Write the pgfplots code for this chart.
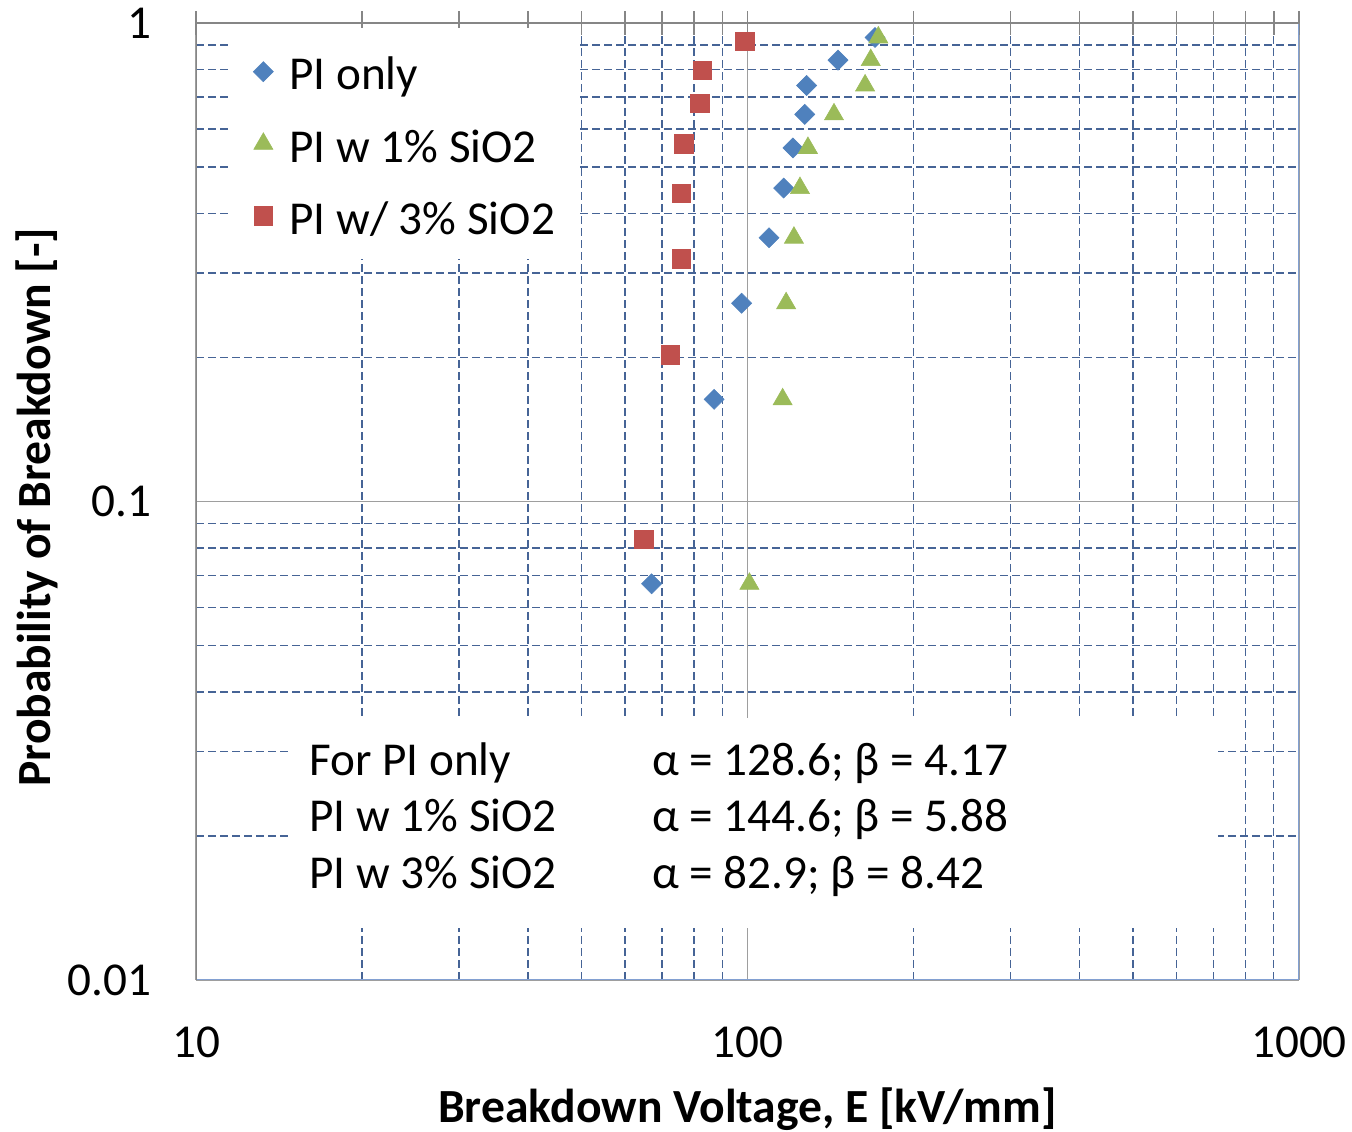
\documentclass[border=0pt]{standalone}
\usepackage{pgfplots}
\pgfplotsset{compat=1.18}
\usepackage{fontspec}
\setmainfont{Carlito}
\definecolor{pblue}{RGB}{79,129,189}
\definecolor{pgreen}{RGB}{155,187,89}
\definecolor{pred}{RGB}{192,80,77}
\definecolor{gridblue}{RGB}{70,100,150}
\definecolor{borderblue}{RGB}{130,160,210}
\definecolor{axgray}{RGB}{134,134,134}
\newcommand{\fs}{\fontsize{23.6}{28.3}\selectfont}
\begin{document}
\begin{tikzpicture}
\begin{axis}[
  xmode=log, ymode=log,
  scale only axis, width=551.5pt, height=478.5pt,
  xmin=10, xmax=1000, ymin=0.01, ymax=1,
  xtick={10,100,1000}, xticklabels={10,100,1000},
  ytick={0.01,0.1,1}, yticklabels={0.01,0.1,1},
  minor xtick={20,30,40,50,60,70,80,90,200,300,400,500,600,700,800,900},
  minor ytick={0.02,0.03,0.04,0.05,0.06,0.07,0.08,0.09,0.2,0.3,0.4,0.5,0.6,0.7,0.8,0.9},
  xtick pos=upper, xticklabel pos=lower,
  ytick pos=left,
  xtick align=center,
  major tick length=12pt, minor tick length=12pt,
  x tick style={axgray, line width=0.75pt},
  y tick style={draw=none},
  grid=both,
  major grid style={axgray!80, line width=0.75pt, solid},
  minor grid style={gridblue, line width=0.7pt, dash pattern=on 4pt off 2pt},
  axis line style={draw=none},
  tick label style={font=\fs},
  xticklabel style={yshift=-14pt},
  yticklabel style={xshift=-19pt},
  xlabel={Breakdown Voltage, E [kV/mm]},
  ylabel={Probability of Breakdown [-]},
  xlabel style={font=\bfseries\fontsize{23.8}{28.5}\selectfont, at={(axis description cs:0.5,-0.135)}, anchor=center},
  ylabel style={font=\bfseries\fontsize{23.8}{28.5}\selectfont, at={(axis description cs:-0.144,0.494)}, anchor=center},
  legend style={at={(rel axis cs:0.0326,0.9948)}, anchor=north west, draw=none, fill=white,
    font=\fs, row sep=10.75pt, inner xsep=10.5pt, inner ysep=9pt,
    /tikz/every odd column/.append style={column sep=6pt}},
  legend cell align=left,
  legend image code/.code={\draw[#1,mark repeat=2,mark phase=2] plot coordinates {(0pt,0pt)(6pt,0pt)(12pt,0pt)};},
]
\addplot[only marks, mark=square*, mark size=3.54pt, color=pblue, mark options={rotate=45, line width=0.3pt}]
  coordinates {(67.0,0.0673)(87.0,0.1635)(97.6,0.2596)(109.4,0.3558)(116.3,0.4519)(120.9,0.5481)(127.0,0.6442)(128.0,0.7404)(145.9,0.8365)(170.3,0.9327)};
\addlegendentry{\strut PI only}
\addplot[only marks, mark=triangle*, mark size=5.5pt, color=pgreen, mark options={line width=0.3pt}]
  coordinates {(100.8,0.0673)(115.8,0.1635)(117.5,0.2596)(121.4,0.3558)(124.5,0.4519)(128.7,0.5481)(143.5,0.6442)(163.4,0.7404)(167.3,0.8365)(172.7,0.9327)};
\addlegendentry{\strut PI w 1\% SiO2}
\addplot[only marks, mark=square*, mark size=4.6pt, color=pred, mark options={line width=0.3pt}]
  coordinates {(64.9,0.0833)(72.4,0.2024)(75.9,0.3214)(75.9,0.4405)(76.7,0.5595)(82.0,0.6786)(82.7,0.7976)(98.8,0.9167)};
\addlegendentry{\strut PI w/ 3\% SiO2}
\fill[white] (rel axis cs:0.0834,0.0543) rectangle (rel axis cs:0.9266,0.2738);
\node[anchor=base west, inner sep=0pt, font=\fs] at (rel axis cs:0.1024,0.2142) {For PI only};
\node[anchor=base west, inner sep=0pt, font=\fs] at (rel axis cs:0.1024,0.1547) {PI w 1\% SiO2};
\node[anchor=base west, inner sep=0pt, font=\fs] at (rel axis cs:0.1024,0.0951) {PI w 3\% SiO2};
\node[anchor=base west, inner sep=0pt, font=\fs] at (rel axis cs:0.4134,0.2142) {α = 128.6; β = 4.17};
\node[anchor=base west, inner sep=0pt, font=\fs] at (rel axis cs:0.4134,0.1547) {α = 144.6; β = 5.88};
\node[anchor=base west, inner sep=0pt, font=\fs] at (rel axis cs:0.4134,0.0951) {α = 82.9; β = 8.42};
\draw[borderblue, line width=0.75pt] (rel axis cs:0,0) -- (rel axis cs:1,0) -- (rel axis cs:1,1);
\draw[axgray, line width=0.75pt] (rel axis cs:0,0) -- (rel axis cs:0,1) -- (rel axis cs:1,1);
\draw[axgray, line width=0.75pt] (rel axis cs:0,0) -- ++(-7.5pt,0pt) (rel axis cs:0,0.5) -- ++(-7.5pt,0pt) (rel axis cs:0,1) -- ++(-7.5pt,0pt);
\coordinate (bl) at (rel axis cs:0,0);
\coordinate (tr) at (rel axis cs:1,1);
\end{axis}
\pgfresetboundingbox
\path[use as bounding box] ([shift={(-98pt,-76pt)}]bl) rectangle ([shift={(26.5pt,11.5pt)}]tr);
\end{tikzpicture}
\end{document}
